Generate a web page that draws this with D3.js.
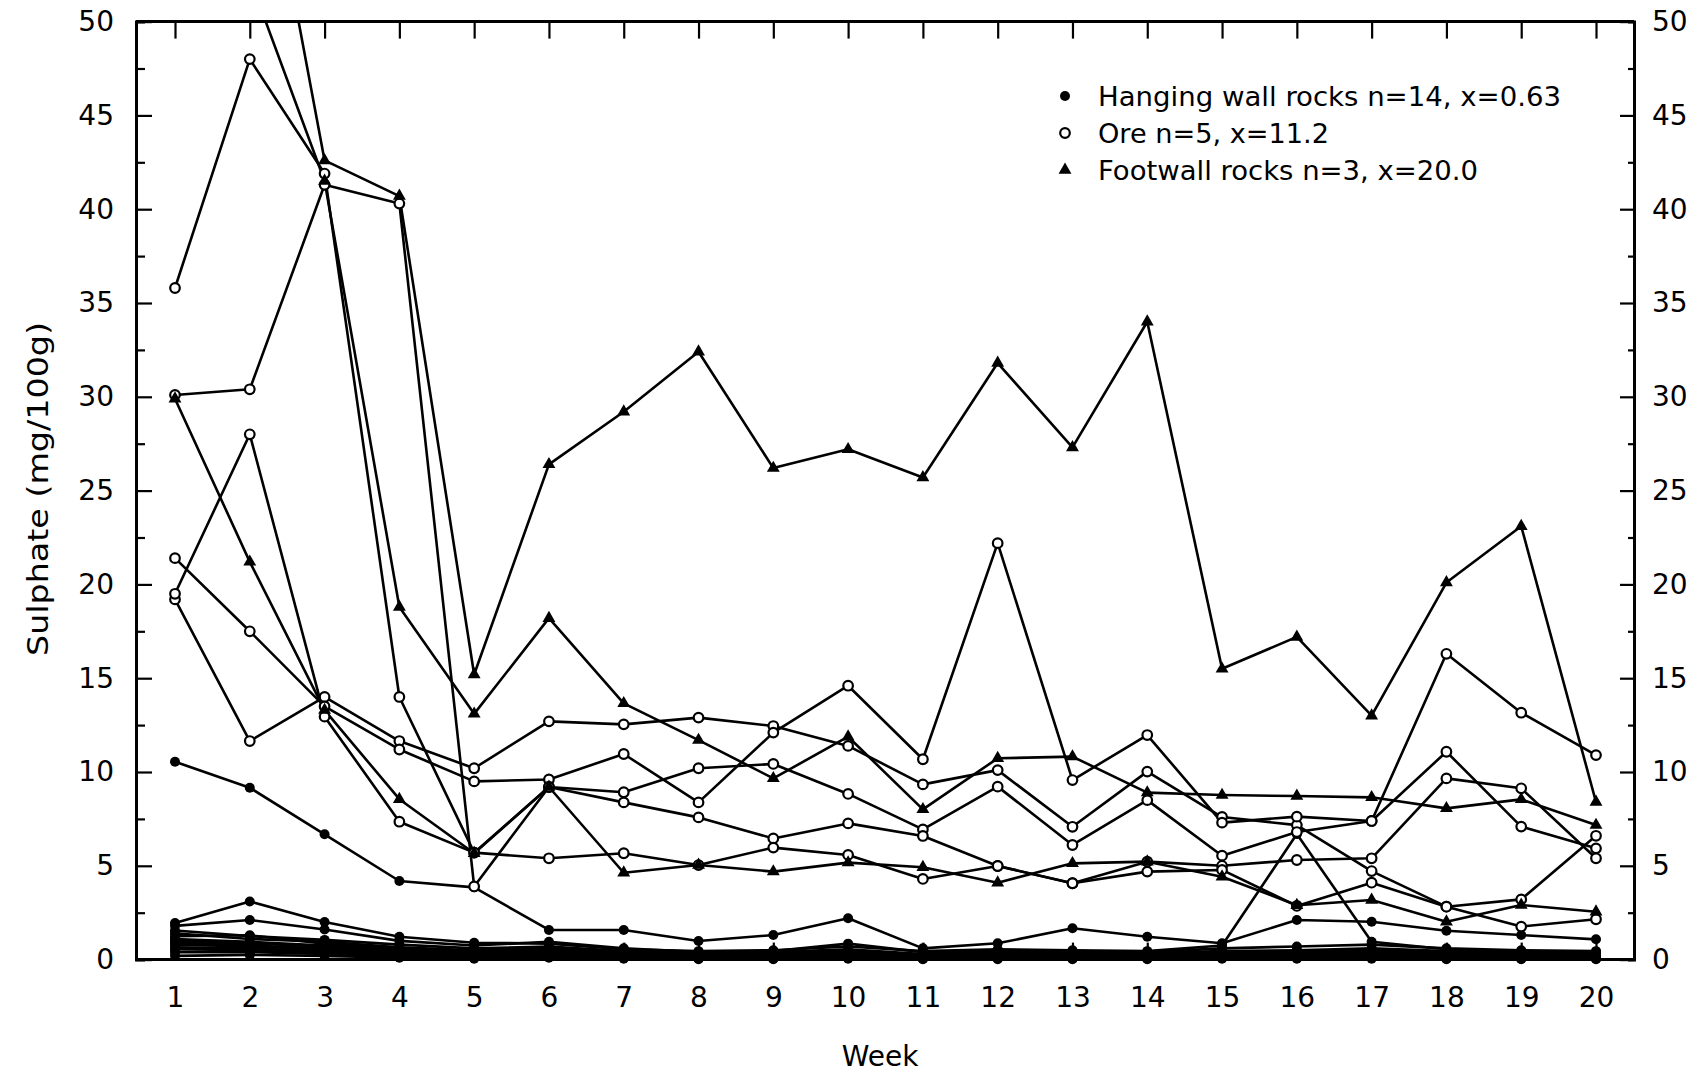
<!DOCTYPE html>
<html>
<head>
<meta charset="utf-8">
<script src="https://cdn.jsdelivr.net/npm/d3@7"></script>
<style>
  body { margin: 0; background: #fff; }
  svg { display: block; }
  text { font-family: "DejaVu Sans", sans-serif; fill: #000; }
</style>
</head>
<body>
<svg id="chart" width="1704" height="1073"></svg>
<script>
// Weekly sulphate leached from crushed rock samples (mg/100g)
const weeks = d3.range(1, 21);
const yMajorTicks = [0, 5, 10, 15, 20, 25, 30, 35, 40, 45, 50];
const yMinorTicks = [2.5, 7.5, 12.5, 17.5, 22.5, 27.5, 32.5, 37.5, 42.5, 47.5];

// Hanging wall rocks (filled dots), n = 14
const hangingWall = [
  [10.55, 9.16, 6.68, 4.19, 3.85, 1.58, 1.58, 0.99, 1.31, 2.2, 0.6, 0.87, 1.67, 1.22, 0.87, 2.11, 2.02, 1.54, 1.31, 1.08],
  [1.95, 3.10, 2.00, 1.22, 0.90, 0.85, 0.55, 0.45, 0.50, 0.70, 0.45, 0.55, 0.50, 0.45, 0.75, 6.69, 0.95, 0.55, 0.45, 0.40],
  [1.80, 2.11, 1.60, 1.00, 0.75, 0.95, 0.60, 0.40, 0.45, 0.85, 0.40, 0.50, 0.45, 0.40, 0.60, 0.70, 0.80, 0.60, 0.50, 0.45],
  [1.55, 1.25, 1.05, 0.80, 0.60, 0.70, 0.45, 0.35, 0.40, 0.55, 0.30, 0.45, 0.40, 0.35, 0.45, 0.50, 0.60, 0.45, 0.40, 0.35],
  [1.40, 1.10, 0.95, 0.65, 0.50, 0.60, 0.40, 0.30, 0.35, 0.45, 0.25, 0.35, 0.35, 0.30, 0.40, 0.45, 0.50, 0.40, 0.35, 0.30],
  [1.25, 1.30, 0.85, 0.55, 0.45, 0.50, 0.35, 0.25, 0.30, 0.40, 0.20, 0.30, 0.30, 0.25, 0.35, 0.40, 0.45, 0.35, 0.30, 0.25],
  [1.10, 0.95, 0.75, 0.50, 0.40, 0.45, 0.30, 0.20, 0.25, 0.35, 0.20, 0.25, 0.25, 0.20, 0.30, 0.35, 0.40, 0.30, 0.25, 0.20],
  [1.00, 0.85, 0.70, 0.45, 0.35, 0.40, 0.25, 0.20, 0.20, 0.30, 0.15, 0.20, 0.20, 0.20, 0.25, 0.30, 0.35, 0.25, 0.20, 0.20],
  [0.90, 0.75, 0.60, 0.40, 0.30, 0.35, 0.20, 0.15, 0.20, 0.25, 0.15, 0.20, 0.15, 0.15, 0.20, 0.25, 0.30, 0.20, 0.20, 0.15],
  [0.80, 0.70, 0.55, 0.35, 0.25, 0.30, 0.20, 0.15, 0.15, 0.20, 0.10, 0.15, 0.15, 0.15, 0.20, 0.20, 0.25, 0.20, 0.15, 0.15],
  [0.65, 0.60, 0.45, 0.30, 0.20, 0.25, 0.15, 0.10, 0.10, 0.15, 0.10, 0.10, 0.10, 0.10, 0.15, 0.15, 0.20, 0.15, 0.10, 0.10],
  [0.55, 0.50, 0.40, 0.25, 0.15, 0.20, 0.10, 0.10, 0.10, 0.10, 0.05, 0.10, 0.10, 0.10, 0.10, 0.10, 0.15, 0.10, 0.10, 0.05],
  [0.40, 0.40, 0.30, 0.20, 0.10, 0.15, 0.10, 0.05, 0.05, 0.10, 0.05, 0.05, 0.05, 0.05, 0.10, 0.10, 0.10, 0.05, 0.05, 0.05],
  [0.20, 0.25, 0.20, 0.10, 0.05, 0.10, 0.05, 0.02, 0.02, 0.05, 0.02, 0.02, 0.02, 0.02, 0.05, 0.05, 0.05, 0.02, 0.02, 0.02]
];

// Ore (open circles), n = 5
const ore = [
  [19.2, 11.65, 14.0, 11.65, 10.2, 12.7, 12.54, 12.9, 12.45, 11.39, 9.34, 10.1, 7.08, 10.02, 7.6, 7.17, 4.72, 2.82, 3.21, 6.6],
  [21.4, 17.5, 13.5, 11.2, 9.5, 9.6, 10.96, 8.38, 12.1, 14.6, 10.68, 22.2, 9.57, 11.97, 7.3, 7.62, 7.39, 16.3, 13.16, 10.9],
  [35.8, 48.0, 41.9, 14.0, 5.7, 9.2, 8.92, 10.2, 10.43, 8.83, 6.94, 9.22, 6.11, 8.5, 5.54, 6.8, 7.39, 11.08, 7.09, 5.93],
  [30.1, 30.4, 41.3, 40.3, 3.9, 9.2, 8.38, 7.58, 6.46, 7.26, 6.59, 4.99, 4.07, 5.22, 5.0, 5.31, 5.4, 9.66, 9.13, 5.4],
  [19.5, 28.0, 12.95, 7.35, 5.7, 5.4, 5.67, 5.04, 5.97, 5.58, 4.3, 4.99, 4.07, 4.69, 4.78, 2.86, 4.1, 2.82, 1.76, 2.15]
];

// Footwall rocks (triangles), n = 3
const footwall = [
  [null, 63.9, 42.6, 40.7, 15.2, 26.4, 29.2, 32.4, 26.2, 27.2, 25.7, 31.8, 27.3, 34.0, 15.5, 17.2, 13.0, 20.1, 23.1, 8.4],
  [29.9, 21.2, 13.3, 8.55, 5.67, 9.2, 4.63, 5.04, 4.69, 5.17, 4.92, 4.1, 5.13, 5.22, 4.42, 2.9, 3.18, 2.02, 2.91, 2.55],
  [null, 52.3, 41.5, 18.8, 13.1, 18.2, 13.66, 11.7, 9.66, 11.88, 8.01, 10.73, 10.82, 8.9, 8.77, 8.72, 8.65, 8.06, 8.54, 7.17]
];

const legendLabels = [
  "Hanging wall rocks n=14, x=0.63",
  "Ore n=5, x=11.2",
  "Footwall rocks n=3, x=20.0"
];

const svg = d3.select("#chart");
const plot = { left: 136, right: 1634, top: 21.6, bottom: 959.6 };

const x = d3.scaleLinear().domain([1, 20]).range([175, 1596]);
const y = d3.scaleLinear().domain([0, 50]).range([plot.bottom, plot.top]);

// Lines are clipped at the top of the frame (values above 50 run off the chart)
svg.append("defs").append("clipPath").attr("id", "clip")
  .append("rect")
  .attr("x", plot.left).attr("y", plot.top)
  .attr("width", plot.right - plot.left).attr("height", 1073 - plot.top);

const line = d3.line()
  .defined(d => d != null)
  .x((d, i) => x(weeks[i]))
  .y(d => y(d));

const groups = [
  { data: hangingWall, kind: "dot" },
  { data: ore, kind: "circle" },
  { data: footwall, kind: "triangle" }
];

const lineLayer = svg.append("g").attr("clip-path", "url(#clip)");
groups.forEach(g => {
  lineLayer.selectAll(null)
    .data(g.data)
    .join("path")
    .attr("d", line)
    .attr("fill", "none")
    .attr("stroke", "#000")
    .attr("stroke-width", 2.6)
    .attr("stroke-linejoin", "round");
});

const triangle = d3.symbol().type(d3.symbolTriangle).size(72);

function drawMarker(sel, kind) {
  if (kind === "dot") {
    sel.append("circle").attr("r", 5).attr("fill", "#000");
  } else if (kind === "circle") {
    sel.append("circle").attr("r", 4.8).attr("fill", "#fff")
      .attr("stroke", "#000").attr("stroke-width", 2.2);
  } else {
    sel.append("path").attr("d", triangle()).attr("fill", "#000");
  }
}

const markerLayer = svg.append("g");
groups.forEach(g => {
  g.data.forEach(series => {
    series.forEach((v, i) => {
      if (v == null || v > 50) return;
      const m = markerLayer.append("g")
        .attr("transform", `translate(${x(weeks[i])},${y(v)})`);
      drawMarker(m, g.kind);
    });
  });
});

// Axes: ticks point into the frame on all four sides
const axisStyle = sel => {
  sel.select(".domain").attr("stroke", "#000").attr("stroke-width", 3);
  sel.selectAll(".tick line").attr("stroke", "#000").attr("stroke-width", 2.2);
  sel.selectAll("text").attr("font-size", 28).style("font-family", '"DejaVu Sans", sans-serif');
};

svg.append("g")
  .attr("transform", `translate(${plot.left},0)`)
  .call(d3.axisLeft(y).tickValues(yMajorTicks).tickSize(-16).tickSizeOuter(0).tickPadding(22))
  .call(axisStyle);
svg.append("g")
  .attr("transform", `translate(${plot.left},0)`)
  .call(d3.axisLeft(y).tickValues(yMinorTicks).tickSize(-9).tickFormat(""))
  .call(axisStyle);

svg.append("g")
  .attr("transform", `translate(${plot.right},0)`)
  .call(d3.axisRight(y).tickValues(yMajorTicks).tickSize(-14).tickSizeOuter(0).tickPadding(18))
  .call(axisStyle);
svg.append("g")
  .attr("transform", `translate(${plot.right},0)`)
  .call(d3.axisRight(y).tickValues(yMinorTicks).tickSize(-6).tickFormat(""))
  .call(axisStyle);

const xFrame = d3.scaleLinear().domain([1, 20]).range(x.range());
const bottomAxis = svg.append("g")
  .attr("transform", `translate(0,${plot.bottom})`)
  .call(d3.axisBottom(xFrame).tickValues(weeks).tickFormat(d3.format("d"))
    .tickSize(-17).tickSizeOuter(0).tickPadding(28))
  .call(axisStyle);
bottomAxis.select(".domain").attr("d", `M${plot.left},0H${plot.right}`);

const topAxis = svg.append("g")
  .attr("transform", `translate(0,${plot.top})`)
  .call(d3.axisTop(xFrame).tickValues(weeks).tickFormat("").tickSize(-17).tickSizeOuter(0))
  .call(axisStyle);
topAxis.select(".domain").attr("d", `M${plot.left},0H${plot.right}`);

// Axis titles
svg.append("text")
  .attr("x", 880).attr("y", 1066)
  .attr("text-anchor", "middle")
  .attr("font-size", 28)
  .text("Week");

svg.append("text")
  .attr("transform", "translate(48,489) rotate(-90)")
  .attr("text-anchor", "middle")
  .attr("font-size", 29)
  .attr("textLength", 334)
  .attr("lengthAdjust", "spacingAndGlyphs")
  .text("Sulphate (mg/100g)");

// Legend
const legendWidths = [463, 231, 380];
const legend = svg.append("g");
["dot", "circle", "triangle"].forEach((kind, i) => {
  const cy = 96 + i * 37;
  const m = legend.append("g").attr("transform", `translate(1065,${cy})`);
  drawMarker(m, kind);
  legend.append("text")
    .attr("x", 1098).attr("y", cy + 10)
    .attr("font-size", 27)
    .attr("textLength", legendWidths[i])
    .attr("lengthAdjust", "spacingAndGlyphs")
    .text(legendLabels[i]);
});
</script>
</body>
</html>
